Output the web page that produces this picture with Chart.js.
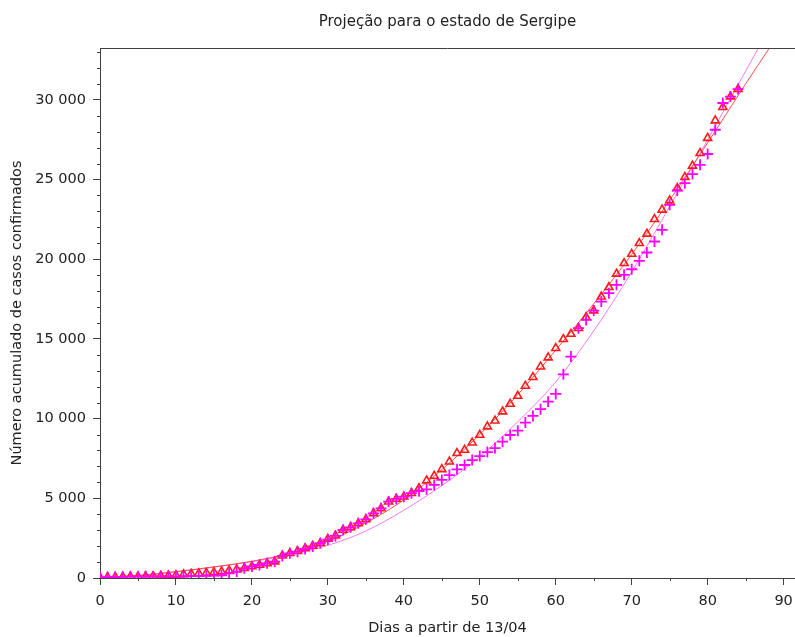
<!DOCTYPE html>
<html>
<head>
<meta charset="utf-8">
<script src="https://cdn.jsdelivr.net/npm/chart.js@4.4.1/dist/chart.umd.min.js"></script>
<style>
html,body{margin:0;padding:0;background:#fff;}
#wrap{width:795px;height:637px;}
</style>
</head>
<body>
<div id="wrap"><canvas id="c" width="795" height="637"></canvas></div>
<script>
// Days since 13/04
const days = [];
for (let d = 0; d <= 84; d++) days.push(d);

// Series 1 (red triangles)
const casesTriangles = [
  50, 60, 70, 80, 90, 100, 110, 120, 135, 150,
  170, 230, 260, 290, 320, 360, 400, 470, 540, 620,
  720, 820, 920, 1030, 1400, 1560, 1680, 1860, 2010, 2180,
  2450, 2650, 3010, 3180, 3430, 3680, 4060, 4370, 4790, 4960,
  5100, 5320, 5630, 6110, 6400, 6820, 7300, 7830, 8030, 8490,
  8970, 9500, 9870, 10440, 10920, 11420, 12050, 12600, 13260, 13830,
  14420, 14980, 15310, 15670, 16360, 16780, 17650, 18240, 19080, 19750,
  20330, 21000, 21590, 22510, 23100, 23680, 24460, 25150, 25860, 26650,
  27600, 28700, 29540, 30200, 30670
];

// Series 2 (magenta crosses)
const casesCrosses = [
  40, 50, 60, 70, 80, 90, 95, 100, 105, 110,
  100, 110, 120, 130, 140, 150, 170, 290, 400, 610,
  720, 815, 920, 1020, 1380, 1550, 1650, 1820, 1980, 2180,
  2400, 2640, 3010, 3180, 3430, 3680, 4060, 4370, 4790, 4960,
  5100, 5320, 5450, 5560, 5840, 6150, 6460, 6820, 7090, 7400,
  7650, 7900, 8150, 8550, 8970, 9240, 9750, 10170, 10590, 11060,
  11550, 12780, 13890, 15670, 16190, 16780, 17340, 17870, 18390, 19020,
  19370, 19900, 20420, 21110, 21840, 23410, 24310, 24770, 25340, 25920,
  26600, 28120, 29800, 30200, 30670
];

// Fitted curves
const redFitDays = [0, 5, 10, 15, 20, 25, 30, 35, 40, 45, 50, 55, 60, 65, 70, 75, 80, 85, 88.2];
const redFitCases = [30, 160, 400, 700, 1050, 1550, 2300, 3450, 4900, 6800, 9000, 11500, 14300, 17200, 20300, 23700, 27300, 31000, 33300];

const magFitDays = [0, 5, 10, 15, 20, 25, 30, 35, 40, 45, 50, 55, 60, 65, 70, 75, 80, 85, 86.7];
const magFitCases = [0, 130, 380, 680, 1020, 1480, 2050, 2950, 4250, 5800, 7600, 9800, 12300, 15500, 19200, 23300, 27500, 31800, 33250];

// Axis ticks
const yMajorTicks = [0, 5000, 10000, 15000, 20000, 25000, 30000];
const xMajorTicks = [0, 10, 20, 30, 40, 50, 60, 70, 80, 90];

const toXY = (xs, ys) => xs.map((x, i) => ({x: x, y: ys[i]}));
const fmt = v => String(v).replace(/\B(?=(\d{3})+(?!\d))/g, ' ');

const AXIS = '#404040';
const TXT = '#222222';
const FONT = '"DejaVu Sans", sans-serif';

const decoPlugin = {
  id: 'deco',
  afterDraw(chart) {
    const ctx = chart.ctx;
    const a = chart.chartArea;
    const ys = chart.scales.y, xs = chart.scales.x;
    ctx.save();
    ctx.strokeStyle = AXIS;
    ctx.lineWidth = 1;
    ctx.beginPath();
    // top frame
    ctx.moveTo(a.left, Math.round(a.top) + 0.5);
    ctx.lineTo(a.right, Math.round(a.top) + 0.5);
    // minor y ticks
    for (let v = 1000; v <= ys.max; v += 1000) {
      if (v % 5000 === 0) continue;
      const p = Math.round(ys.getPixelForValue(v)) + 0.5;
      ctx.moveTo(a.left - 3, p);
      ctx.lineTo(a.left, p);
    }
    // minor x ticks
    for (let v = 5; v <= xs.max; v += 10) {
      const p = Math.round(xs.getPixelForValue(v)) + 0.5;
      ctx.moveTo(p, a.bottom);
      ctx.lineTo(p, a.bottom + 3);
    }
    ctx.stroke();
    ctx.restore();
  }
};

new Chart(document.getElementById('c'), {
  type: 'scatter',
  data: {
    datasets: [
      {
        label: 'Cruzes',
        data: toXY(days, casesCrosses),
        showLine: false,
        pointStyle: 'cross',
        pointRadius: 5.5,
        pointBorderWidth: 1.8,
        borderColor: '#ff00ff',
        backgroundColor: '#ff00ff',
        order: 0
      },
      {
        label: 'Triângulos',
        data: toXY(days, casesTriangles),
        showLine: false,
        pointStyle: 'triangle',
        pointRadius: 4.6,
        pointBorderWidth: 1.6,
        borderColor: '#ff1a1a',
        backgroundColor: 'rgba(0,0,0,0)',
        order: 1
      },
      {
        label: 'Ajuste 1',
        data: toXY(redFitDays, redFitCases),
        showLine: true,
        pointRadius: 0,
        borderWidth: 1,
        borderColor: '#ff5050',
        cubicInterpolationMode: 'monotone',
        order: 2
      },
      {
        label: 'Ajuste 2',
        data: toXY(magFitDays, magFitCases),
        showLine: true,
        pointRadius: 0,
        borderWidth: 1,
        borderColor: '#f57af5',
        cubicInterpolationMode: 'monotone',
        order: 3
      }
    ]
  },
  options: {
    responsive: false,
    animation: false,
    devicePixelRatio: 1,
    layout: {autoPadding: false, padding: {left: 0, right: 0, top: 0, bottom: 0}},
    plugins: {
      legend: {display: false},
      tooltip: {enabled: false},
      title: {
        display: true,
        text: 'Projeção para o estado de Sergipe',
        fullSize: false,
        color: TXT,
        font: {family: FONT, size: 15, weight: 'normal'},
        padding: {top: 13, bottom: 17}
      }
    },
    scales: {
      x: {
        type: 'linear',
        min: 0,
        max: 91.5,
        afterFit(s) { s.height = 59; s.paddingLeft = 0; s.paddingRight = 0; },
        afterBuildTicks(s) { s.ticks = xMajorTicks.map(v => ({value: v})); },
        ticks: {
          color: TXT,
          font: {family: FONT, size: 14.5},
          padding: 8,
          maxRotation: 0,
          autoSkip: false,
          includeBounds: false,
          callback: v => String(v)
        },
        grid: {drawOnChartArea: false, tickLength: 7, tickColor: AXIS, tickWidth: 1},
        border: {color: AXIS, width: 1},
        title: {
          display: true,
          text: 'Dias a partir de 13/04',
          color: TXT,
          font: {family: FONT, size: 14.5},
          padding: {top: 0, bottom: 0}
        }
      },
      y: {
        type: 'linear',
        min: 0,
        max: 33250,
        afterFit(s) { s.width = 100; s.paddingTop = 0; s.paddingBottom = 0; },
        afterBuildTicks(s) { s.ticks = yMajorTicks.map(v => ({value: v})); },
        ticks: {
          color: TXT,
          font: {family: FONT, size: 14.5},
          padding: 7,
          autoSkip: false,
          includeBounds: false,
          callback: v => fmt(v)
        },
        grid: {drawOnChartArea: false, tickLength: 7, tickColor: AXIS, tickWidth: 1},
        border: {color: AXIS, width: 1},
        title: {
          display: true,
          text: 'Número acumulado de casos confirmados',
          color: TXT,
          font: {family: FONT, size: 14.5},
          padding: {top: 9, bottom: 0}
        }
      }
    }
  },
  plugins: [decoPlugin]
});
</script>
</body>
</html>
